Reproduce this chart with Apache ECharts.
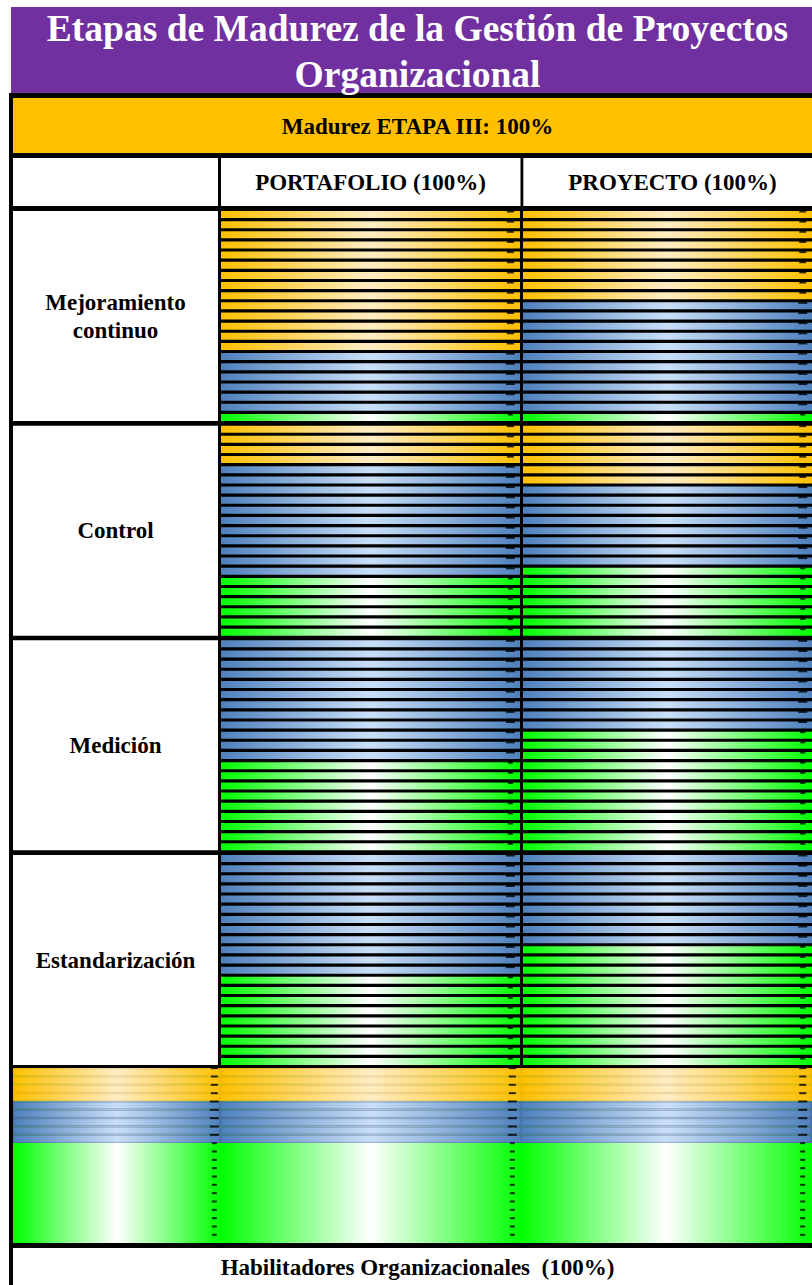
<!DOCTYPE html>
<html><head><meta charset="utf-8">
<script src="https://cdn.jsdelivr.net/npm/echarts@6/dist/echarts.min.js"></script>
<style>html,body{margin:0;padding:0;background:#fff;overflow:hidden}#c{width:812px;height:1285px}</style>
</head><body><div id="c"></div>
<script>
// ---------- texts ----------
const titulo = ['Etapas de Madurez de la Gestión de Proyectos', 'Organizacional'];
const etapaTexto = 'Madurez ETAPA III: 100%';
const columnas = ['PORTAFOLIO (100%)', 'PROYECTO (100%)'];
const etapas = ['Mejoramiento\ncontinuo', 'Control', 'Medición', 'Estandarización'];
const pieTexto = 'Habilitadores Organizacionales  (100%)';
// ---------- data: number of stripes of each colour per cell (top to bottom) ----------
const ordenColores = ['naranja', 'azul', 'verde'];
const portafolioNaranja = [14, 4, 0, 0];
const portafolioAzul    = [6, 11, 12, 12];
const portafolioVerde   = [1, 6, 9, 9];
const proyectoNaranja   = [9, 6, 0, 0];
const proyectoAzul      = [11, 8, 9, 9];
const proyectoVerde     = [1, 7, 12, 12];
const habilitadoresNaranja = [4, 4, 4];   // 3 columns of the bottom band
const habilitadoresAzul    = [5, 5, 5];
const habilitadoresVerde   = [12, 12, 12];
const valorFranja = 100;   // every stripe is 100 %
const valorMarca = 96.8;   // small black end markers

// ---------- styling ----------
const coloresGrad = {
  naranja: ['#FFC000', '#FFEDC4'],
  azul: ['#4F81BD', '#C9DFF8'],
  verde: ['#00FF00', '#FFFFFF']
};
const bordeGrad = {
  naranja: ['#F0B400', '#EFD9A6'],
  azul: ['#46709F', '#9FB5D3']
};
function grad(k, src) {
  const [e, m] = (src || coloresGrad)[k];
  return { type: 'linear', x: 0, y: 0, x2: 1, y2: 0,
    colorStops: [{ offset: 0, color: e }, { offset: 0.5, color: m }, { offset: 1, color: e }] };
}
const tamMarca = { naranja: [7, 2], azul: [9, 2], verde: [5, 2] };

function franjas(counts) {
  const keys = [];
  counts.forEach((n, i) => { for (let j = 0; j < n; j++) keys.push(ordenColores[i]); });
  return keys;
}

const FONT = '"Liberation Serif", "Times New Roman", serif';
const barH = 7;
const pitch = (210 - barH) / 20;
const rowTop = r => 211 + r * 214.67;
const colX = [221, 523];
const colW = [299, 299];
const bottomX = [13, 220, 521];
const bottomW = [208, 302, 302];

const grids = [], xAxes = [], yAxes = [], series = [];
function addCell(keys, g, barWidth, markOffset, bordered) {
  const idx = grids.length;
  grids.push(g);
  xAxes.push({ gridIndex: idx, type: 'value', min: 0, max: 100, show: false });
  yAxes.push({ gridIndex: idx, type: 'category', inverse: true, show: false,
    data: keys.map((k, i) => 'F' + (i + 1)) });
  series.push({
    type: 'bar', xAxisIndex: idx, yAxisIndex: idx, barWidth: barWidth, silent: true,
    data: keys.map(k => ({ value: valorFranja, itemStyle: (bordered && bordeGrad[k])
      ? { color: grad(k), borderColor: grad(k, bordeGrad), borderWidth: 1.3 }
      : { color: grad(k) } })),
    z: 2
  });
  series.push({
    type: 'scatter', xAxisIndex: idx, yAxisIndex: idx, symbol: 'rect', silent: true,
    symbolOffset: [0, markOffset],
    itemStyle: { color: '#000' }, z: 3,
    data: keys.map((k, i) => ({ value: [valorMarca, i], symbolSize: tamMarca[k] }))
  });
}

const porCol = [
  [portafolioNaranja, portafolioAzul, portafolioVerde],
  [proyectoNaranja, proyectoAzul, proyectoVerde]
];
for (let r = 0; r < etapas.length; r++) {
  for (let c = 0; c < 2; c++) {
    const keys = franjas(porCol[c].map(a => a[r]));
    addCell(keys, { left: colX[c], top: rowTop(r) - (pitch - barH) / 2, width: colW[c], height: 21 * pitch },
      barH, -3, false);
  }
}
for (let c = 0; c < 3; c++) {
  const keys = franjas([habilitadoresNaranja[c], habilitadoresAzul[c], habilitadoresVerde[c]]);
  addCell(keys, { left: bottomX[c], top: 1068, width: bottomW[c], height: 175,
    show: true, borderWidth: 0, backgroundColor: grad('verde'), z: 1 }, '100%', -4, true);
}

// ---------- frame / text graphics ----------
function rect(x, y, w, h, fill, z) { return { type: 'rect', shape: { x, y, width: w, height: h }, style: { fill }, z: z || 0, silent: true }; }
function txt(s, x, y, size, fill, extra) {
  return Object.assign({ type: 'text', x, y, z: 10, silent: true,
    style: { text: s, font: 'bold ' + size + 'px ' + FONT, fill: fill,
      textAlign: 'center', align: 'center', textVerticalAlign: 'middle', verticalAlign: 'middle',
      lineHeight: 28 } }, extra || {});
}
const elements = [
  rect(11, 7, 811, 86, '#7030A0'),
  rect(9, 93, 813, 1192, '#000'),
  rect(13, 98, 809, 55, '#FFC000', 1),
  rect(13, 158, 205, 48, '#FFFFFF', 1),
  rect(221, 158, 299.5, 48, '#FFFFFF', 1),
  rect(523.3, 158, 300, 48, '#FFFFFF', 1),
  rect(13, 1248, 809, 37, '#FFFFFF', 1),
  txt(titulo[0], 417.5, 28, 37.5, '#FFFFFF'),
  txt(titulo[1], 417.5, 74, 37.5, '#FFFFFF'),
  txt(etapaTexto, 417.5, 126, 23, '#000'),
  txt(columnas[0], 370.5, 182, 23, '#000'),
  txt(columnas[1], 672.5, 182, 23, '#000'),
  txt(pieTexto, 417.5, 1267, 23, '#000')
];
etapas.forEach((e, r) => {
  elements.push(rect(13, rowTop(r), 205, 210, '#FFFFFF', 1));
  elements.push(txt(e, 115.5, rowTop(r) + 105, 23, '#000'));
});

const chart = echarts.init(document.getElementById('c'), null, { renderer: 'svg', width: 812, height: 1285 });
chart.setOption({
  animation: false,
  backgroundColor: '#FFFFFF',
  grid: grids,
  xAxis: xAxes,
  yAxis: yAxes,
  series: series,
  graphic: { elements: elements }
});
</script>
</body></html>
